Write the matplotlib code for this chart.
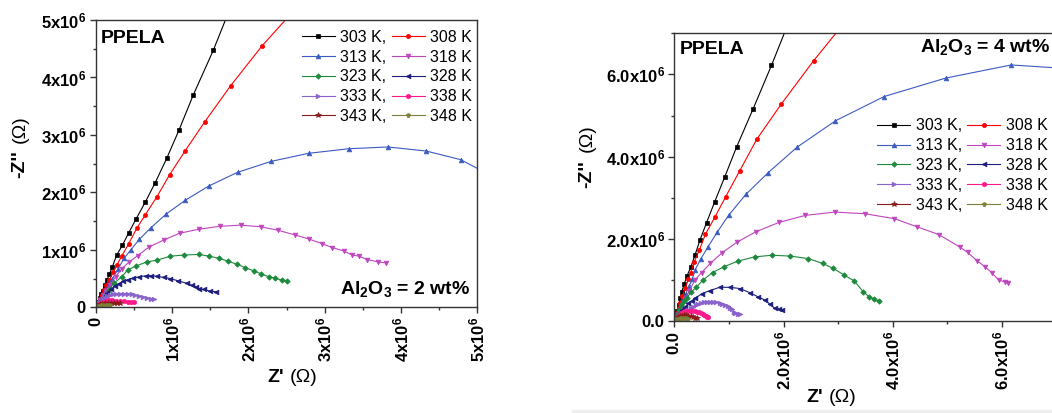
import matplotlib
matplotlib.use("Agg")
import matplotlib.pyplot as plt
from matplotlib.patches import Rectangle
from matplotlib.ticker import FixedLocator, MultipleLocator

plt.rcParams["font.family"] = ["Liberation Sans", "DejaVu Sans"]
plt.rcParams["mathtext.fontset"] = "custom"
for key in ("rm", "it", "bf", "sf"):
    plt.rcParams["mathtext." + key] = "Liberation Sans:bold"

MEG = 1e6  # values below are in units of 10^6 ohm

temps = ["303 K,", "308 K", "313 K,", "318 K", "323 K,", "328 K",
         "333 K,", "338 K", "343 K,", "348 K"]
colors = ["#000000", "#ff0000", "#3b5bc0", "#bf45bf", "#1b8a3c",
          "#1c1c7c", "#8a62cc", "#ff1a8c", "#8b1c1c", "#7f7f3a"]
markers = ["s", "o", "^", "v", "D", "<", ">", "h", "*", "p"]
msizes = [3.2, 3.0, 3.4, 3.4, 2.8, 3.4, 3.4, 3.4, 4.0, 3.6]

# ---- Al2O3 = 2 wt% ----
a2_303_re = [0.01, 0.03, 0.05, 0.07, 0.09, 0.12, 0.15, 0.18, 0.22, 0.275, 0.35, 0.43, 0.53, 0.65, 0.78, 0.93, 1.09, 1.28, 1.54, 1.76]
a2_303_im = [0.03, 0.10, 0.16, 0.23, 0.29, 0.39, 0.48, 0.58, 0.71, 0.91, 1.08, 1.29, 1.54, 1.83, 2.17, 2.59, 3.08, 3.70, 4.47, 5.20]
a2_308_re = [0.01, 0.03, 0.05, 0.08, 0.11, 0.14, 0.18, 0.23, 0.28, 0.34, 0.43, 0.54, 0.65, 0.80, 0.97, 1.17, 1.43, 1.77, 2.18, 2.62]
a2_308_im = [0.03, 0.08, 0.14, 0.22, 0.30, 0.38, 0.48, 0.61, 0.74, 0.89, 1.10, 1.38, 1.61, 1.92, 2.31, 2.72, 3.23, 3.86, 4.55, 5.20]
a2_313_re = [0.01, 0.03, 0.06, 0.09, 0.13, 0.17, 0.22, 0.29, 0.37, 0.46, 0.57, 0.72, 0.92, 1.17, 1.48, 1.86, 2.30, 2.79, 3.32, 3.83, 4.33, 4.78, 5.20]
a2_313_im = [0.02, 0.07, 0.14, 0.21, 0.30, 0.39, 0.50, 0.66, 0.85, 1.00, 1.18, 1.38, 1.62, 1.86, 2.11, 2.35, 2.54, 2.68, 2.76, 2.79, 2.72, 2.57, 2.28]
a2_318_re = [0.01, 0.03, 0.06, 0.10, 0.14, 0.19, 0.26, 0.34, 0.43, 0.55, 0.70, 0.89, 1.10, 1.36, 1.63, 1.90, 2.17, 2.39, 2.61, 2.79, 2.96, 3.10, 3.25, 3.36, 3.45, 3.56, 3.70, 3.81]
a2_318_im = [0.02, 0.065, 0.13, 0.21, 0.29, 0.39, 0.53, 0.67, 0.78, 0.90, 1.05, 1.17, 1.29, 1.36, 1.41, 1.43, 1.40, 1.34, 1.26, 1.19, 1.11, 1.04, 0.98, 0.91, 0.89, 0.83, 0.79, 0.77]
a2_323_re = [0.01, 0.03, 0.06, 0.09, 0.13, 0.17, 0.24, 0.34, 0.42, 0.53, 0.67, 0.80, 0.98, 1.16, 1.35, 1.49, 1.62, 1.74, 1.85, 1.96, 2.08, 2.17, 2.27, 2.35, 2.44, 2.51]
a2_323_im = [0.02, 0.05, 0.10, 0.15, 0.22, 0.30, 0.42, 0.53, 0.65, 0.72, 0.79, 0.82, 0.89, 0.91, 0.92, 0.89, 0.85, 0.80, 0.75, 0.69, 0.63, 0.58, 0.53, 0.51, 0.47, 0.46]
a2_328_re = [0.01, 0.03, 0.06, 0.10, 0.15, 0.20, 0.25, 0.30, 0.36, 0.42, 0.49, 0.57, 0.66, 0.73, 0.80, 0.89, 0.98, 1.08, 1.19, 1.26, 1.32, 1.35, 1.42, 1.50, 1.58]
a2_328_im = [0.02, 0.05, 0.10, 0.17, 0.25, 0.31, 0.37, 0.41, 0.45, 0.48, 0.51, 0.53, 0.55, 0.55, 0.54, 0.52, 0.50, 0.46, 0.42, 0.38, 0.35, 0.32, 0.31, 0.28, 0.27]
a2_333_re = [0.01, 0.02, 0.04, 0.06, 0.09, 0.12, 0.15, 0.19, 0.23, 0.27, 0.32, 0.37, 0.42, 0.47, 0.52, 0.57, 0.62, 0.67, 0.72, 0.76]
a2_333_im = [0.02, 0.04, 0.07, 0.10, 0.14, 0.17, 0.20, 0.22, 0.235, 0.24, 0.24, 0.24, 0.235, 0.225, 0.21, 0.195, 0.18, 0.165, 0.15, 0.145]
a2_338_re = [0.005, 0.02, 0.04, 0.07, 0.10, 0.14, 0.18, 0.22, 0.27, 0.32, 0.37, 0.42, 0.46, 0.50]
a2_338_im = [0.01, 0.03, 0.06, 0.08, 0.10, 0.11, 0.12, 0.12, 0.115, 0.11, 0.105, 0.10, 0.10, 0.095]
a2_343_re = [0.005, 0.02, 0.05, 0.08, 0.12, 0.16, 0.20, 0.24, 0.28, 0.32]
a2_343_im = [0.01, 0.03, 0.05, 0.06, 0.07, 0.08, 0.08, 0.075, 0.07, 0.07]
a2_348_re = [0.005, 0.02, 0.04, 0.07, 0.10, 0.13, 0.16, 0.19]
a2_348_im = [0.005, 0.02, 0.03, 0.04, 0.045, 0.045, 0.045, 0.04]

# ---- Al2O3 = 4 wt% ----
a4_303_re = [0.01, 0.03, 0.05, 0.08, 0.11, 0.135, 0.18, 0.23, 0.305, 0.38, 0.47, 0.59, 0.74, 0.925, 1.14, 1.44, 1.78, 2.06]
a4_303_im = [0.05, 0.15, 0.25, 0.40, 0.56, 0.71, 0.89, 1.09, 1.32, 1.61, 1.97, 2.39, 2.90, 3.51, 4.23, 5.15, 6.22, 7.15]
a4_308_re = [0.01, 0.03, 0.05, 0.08, 0.11, 0.15, 0.20, 0.26, 0.30, 0.365, 0.46, 0.57, 0.74, 0.94, 1.20, 1.51, 1.96, 2.55, 3.02]
a4_308_im = [0.04, 0.12, 0.20, 0.32, 0.44, 0.60, 0.80, 1.02, 1.18, 1.44, 1.73, 2.11, 2.52, 3.02, 3.66, 4.42, 5.28, 6.33, 7.10]
a4_313_re = [0.01, 0.03, 0.05, 0.08, 0.12, 0.16, 0.21, 0.27, 0.33, 0.38, 0.48, 0.62, 0.785, 1.00, 1.31, 1.72, 2.25, 2.95, 3.84, 4.97, 6.17, 7.10]
a4_313_im = [0.03, 0.09, 0.16, 0.26, 0.38, 0.51, 0.66, 0.84, 1.02, 1.24, 1.50, 1.81, 2.16, 2.58, 3.08, 3.61, 4.23, 4.87, 5.46, 5.91, 6.23, 6.15]
a4_318_re = [0.01, 0.03, 0.06, 0.10, 0.15, 0.20, 0.27, 0.38, 0.50, 0.66, 0.865, 1.14, 1.49, 1.92, 2.40, 2.94, 3.49, 4.03, 4.45, 4.85, 5.24, 5.37, 5.55, 5.69, 5.81, 5.94, 6.05, 6.11]
a4_318_im = [0.03, 0.08, 0.16, 0.27, 0.40, 0.53, 0.72, 1.00, 1.18, 1.40, 1.65, 1.91, 2.17, 2.40, 2.57, 2.65, 2.61, 2.49, 2.29, 2.10, 1.79, 1.67, 1.46, 1.32, 1.18, 1.00, 0.95, 0.92]
a4_323_re = [0.01, 0.03, 0.06, 0.09, 0.13, 0.18, 0.23, 0.31, 0.40, 0.53, 0.70, 0.91, 1.17, 1.47, 1.79, 2.12, 2.45, 2.72, 2.91, 3.11, 3.30, 3.46, 3.57, 3.66, 3.75]
a4_323_im = [0.03, 0.08, 0.17, 0.26, 0.38, 0.48, 0.57, 0.70, 0.82, 1.00, 1.18, 1.32, 1.46, 1.56, 1.60, 1.58, 1.52, 1.40, 1.28, 1.12, 0.97, 0.71, 0.59, 0.53, 0.49]
a4_328_re = [0.01, 0.03, 0.06, 0.10, 0.14, 0.20, 0.26, 0.32, 0.38, 0.50, 0.65, 0.83, 1.02, 1.20, 1.38, 1.53, 1.66, 1.75, 1.84, 1.92, 1.98]
a4_328_im = [0.02, 0.06, 0.12, 0.19, 0.27, 0.35, 0.43, 0.49, 0.55, 0.66, 0.74, 0.82, 0.82, 0.79, 0.69, 0.59, 0.51, 0.41, 0.31, 0.28, 0.27]
a4_333_re = [0.01, 0.03, 0.06, 0.10, 0.15, 0.20, 0.25, 0.30, 0.34, 0.39, 0.44, 0.49, 0.54, 0.60, 0.65, 0.71, 0.77, 0.83, 0.88, 0.93, 0.98, 1.02, 1.05, 1.09, 1.12, 1.16, 1.20]
a4_333_im = [0.01, 0.04, 0.07, 0.12, 0.17, 0.22, 0.27, 0.31, 0.35, 0.39, 0.42, 0.44, 0.46, 0.47, 0.47, 0.47, 0.46, 0.44, 0.42, 0.39, 0.36, 0.32, 0.28, 0.23, 0.19, 0.17, 0.16]
a4_338_re = [0.005, 0.02, 0.05, 0.08, 0.12, 0.16, 0.20, 0.24, 0.28, 0.33, 0.37, 0.41, 0.45, 0.49, 0.52, 0.55, 0.58, 0.60, 0.62]
a4_338_im = [0.01, 0.04, 0.10, 0.15, 0.19, 0.22, 0.24, 0.25, 0.25, 0.25, 0.24, 0.23, 0.22, 0.20, 0.18, 0.15, 0.12, 0.10, 0.09]
a4_343_re = [0.005, 0.02, 0.04, 0.07, 0.10, 0.14, 0.18, 0.22, 0.26, 0.30, 0.34, 0.38, 0.41]
a4_343_im = [0.01, 0.03, 0.06, 0.09, 0.12, 0.13, 0.14, 0.135, 0.12, 0.11, 0.09, 0.075, 0.065]
a4_348_re = [0.005, 0.02, 0.04, 0.07, 0.10, 0.13, 0.16, 0.19, 0.22, 0.26]
a4_348_im = [0.005, 0.02, 0.04, 0.06, 0.07, 0.08, 0.08, 0.075, 0.065, 0.05]

series_2wt = [(a2_303_re, a2_303_im), (a2_308_re, a2_308_im), (a2_313_re, a2_313_im),
              (a2_318_re, a2_318_im), (a2_323_re, a2_323_im), (a2_328_re, a2_328_im),
              (a2_333_re, a2_333_im), (a2_338_re, a2_338_im), (a2_343_re, a2_343_im),
              (a2_348_re, a2_348_im)]
series_4wt = [(a4_303_re, a4_303_im), (a4_308_re, a4_308_im), (a4_313_re, a4_313_im),
              (a4_318_re, a4_318_im), (a4_323_re, a4_323_im), (a4_328_re, a4_328_im),
              (a4_333_re, a4_333_im), (a4_338_re, a4_338_im), (a4_343_re, a4_343_im),
              (a4_348_re, a4_348_im)]

ticks_2wt = [0, 1, 2, 3, 4, 5]
ticklabels_2wt = ["0", "1x10$^6$", "2x10$^6$", "3x10$^6$", "4x10$^6$", "5x10$^6$"]
ticks_4wt = [0, 2, 4, 6]
ticklabels_4wt = ["0.0", "2.0x10$^6$", "4.0x10$^6$", "6.0x10$^6$"]

TICK_FS = 12
LEG_FS = 11.5
LABEL_FS = 14

W, H = 1052, 413
fig = plt.figure(figsize=(W / 100, H / 100), dpi=100)


def px_axes(x0, y0, x1, y1):
    return fig.add_axes([x0 / W, 1 - y1 / H, (x1 - x0) / W, (y1 - y0) / H])


def draw_panel(ax, series, xmax, ymax, ticks, labels, minor):
    lines = []
    for (re, im), lab, c, m, ms in zip(series, temps, colors, markers, msizes):
        ln, = ax.plot([v * MEG for v in re], [v * MEG for v in im], color=c,
                      marker=m, ms=ms, lw=0.8, mec=c, mew=0.5, label=lab)
        lines.append(ln)
    ax.set_xlim(0, xmax * MEG)
    ax.set_ylim(0, ymax * MEG)
    ax.xaxis.set_major_locator(FixedLocator([t * MEG for t in ticks]))
    ax.yaxis.set_major_locator(FixedLocator([t * MEG for t in ticks]))
    ax.xaxis.set_minor_locator(MultipleLocator(minor * MEG))
    ax.yaxis.set_minor_locator(MultipleLocator(minor * MEG))
    ax.set_xticklabels(labels, rotation=90, fontweight="bold", fontsize=TICK_FS)
    ax.set_yticklabels(labels, fontweight="bold", fontsize=TICK_FS)
    ax.tick_params(which="major", direction="out", length=4, width=1, pad=3, color="#333333")
    ax.tick_params(which="minor", direction="out", length=2.5, width=1, color="#333333")
    for s in ax.spines.values():
        s.set_linewidth(1.0)
        s.set_color("#333333")
    return lines


def add_legend(ax, lines, anchor):
    order = [0, 2, 4, 6, 8, 1, 3, 5, 7, 9]
    ax.legend([lines[i] for i in order], [temps[i] for i in order], ncol=2,
              loc="upper left", bbox_to_anchor=anchor, frameon=False,
              fontsize=LEG_FS, numpoints=1, handlelength=2.05, handletextpad=0.35,
              columnspacing=0.35, labelspacing=0.3, borderpad=0, borderaxespad=0)


def two_part_label(x, y, bold_txt, reg_txt, vertical):
    if vertical:
        fig.text(x / W, 1 - y[0] / H, bold_txt, rotation=90, fontsize=LABEL_FS,
                 fontweight="bold", ha="center", va="center")
        fig.text(x / W, 1 - y[1] / H, reg_txt, rotation=90, fontsize=LABEL_FS,
                 ha="center", va="center")
    else:
        fig.text(x[0] / W, 1 - y / H, bold_txt, fontsize=LABEL_FS, fontweight="bold",
                 ha="right", va="center")
        fig.text(x[1] / W, 1 - y / H, reg_txt, fontsize=LABEL_FS, ha="left", va="center")


# left panel
ax1 = px_axes(95.7, 20, 477.3, 307.3)
l1 = draw_panel(ax1, series_2wt, 5, 5, ticks_2wt, ticklabels_2wt, 0.5)
add_legend(ax1, l1, (0.540, 0.966))
ax1.text(0.014, 0.920, "PPELA", transform=ax1.transAxes, fontsize=LABEL_FS,
         fontweight="bold", ha="left", va="baseline")
ax1.text(0.981, 0.046, "Al$_2$O$_3$ = 2 wt%", transform=ax1.transAxes,
         fontsize=LABEL_FS, fontweight="bold", ha="right", va="baseline")
two_part_label((284, 290), 377, "Z'", "(\u03a9)", vertical=False)
two_part_label(20, (164.5, 129), "-Z''", "(\u03a9)", vertical=True)

# right panel (extends slightly past the figure edge)
ax2 = px_axes(674.3, 33.3, 1056.5, 321)
l2 = draw_panel(ax2, series_4wt, 7, 7, ticks_4wt, ticklabels_4wt, 1)
ax2.spines["right"].set_visible(False)
add_legend(ax2, l2, (0.531, 0.704))
ax2.text(0.015, 0.928, "PPELA", transform=ax2.transAxes, fontsize=LABEL_FS,
         fontweight="bold", ha="left", va="baseline")
ax2.text(0.983, 0.936, "Al$_2$O$_3$ = 4 wt%", transform=ax2.transAxes,
         fontsize=LABEL_FS, fontweight="bold", ha="right", va="baseline")
two_part_label((823, 829), 398, "Z'", "(\u03a9)", vertical=False)
two_part_label(587, (174.5, 138), "-Z''", "(\u03a9)", vertical=True)

fig.patches.append(Rectangle((572 / W, 0), 1 - 572 / W, 3 / H, transform=fig.transFigure,
                             color="#eeeeee", zorder=0))

fig.savefig("out.png", dpi=100)
